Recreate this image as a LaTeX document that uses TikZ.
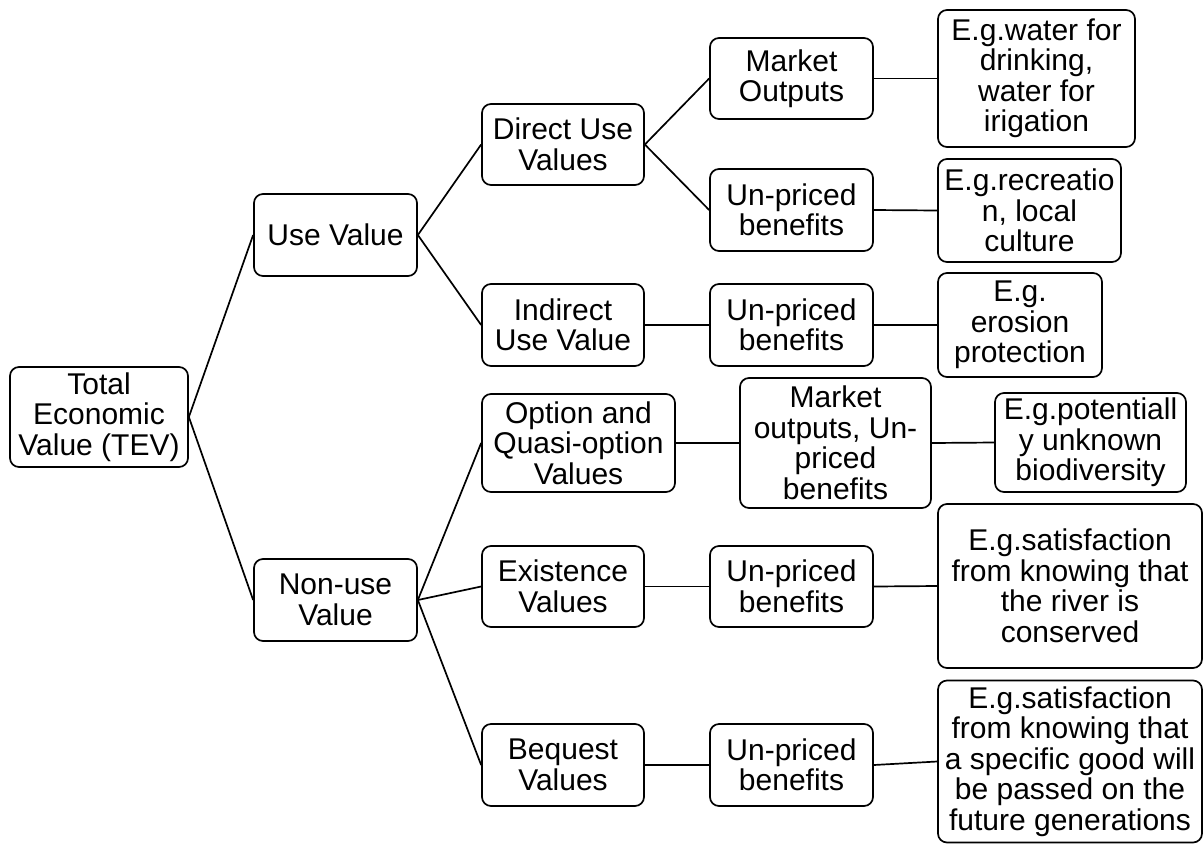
\documentclass[tikz,border=0pt]{standalone}
\usepackage{fontspec}
\setmainfont{Liberation Sans}
\begin{document}
\begin{tikzpicture}[x=1pt,y=-1pt,
  box/.style={draw, line width=1.7pt, rounded corners=9pt, align=center,
    inner sep=0pt, font=\fontsize{30}{30.5}\selectfont},
  link/.style={line width=1.7pt}]
\useasboundingbox (0,0) rectangle (1204,844);
% level 0 and 1
\node[box, minimum width=178, minimum height=100] (tev) at (99,417) {Total\\Economic\\Value (TEV)};
\node[box, minimum width=163, minimum height=82] (use) at (335.5,235) {Use Value};
\node[box, minimum width=163, minimum height=82] (non) at (335.5,600) {Non-use\\Value};
% level 2
\node[box, minimum width=162, minimum height=81] (direct) at (563,144.5) {Direct Use\\Values};
\node[box, minimum width=162, minimum height=82] (indirect) at (563,325) {Indirect\\Use Value};
\node[box, minimum width=193, minimum height=98] (option) at (578.5,443) {Option and\\Quasi-option\\Values};
\node[box, minimum width=162, minimum height=81] (exist) at (563,586.5) {Existence\\Values};
\node[box, minimum width=162, minimum height=82] (bequest) at (563,765) {Bequest\\Values};
% level 3
\node[box, minimum width=163, minimum height=81] (market) at (791.5,78.5) {Market\\Outputs};
\node[box, minimum width=163, minimum height=82] (upa) at (791.5,210) {Un-priced\\benefits};
\node[box, minimum width=163, minimum height=82] (upb) at (791.5,325) {Un-priced\\benefits};
\node[box, minimum width=191, minimum height=130] (mixed) at (835.5,443) {Market\\outputs, Un-\\priced\\benefits};
\node[box, minimum width=163, minimum height=81] (upc) at (791.5,586.5) {Un-priced\\benefits};
\node[box, minimum width=163, minimum height=82] (upd) at (791.5,765) {Un-priced\\benefits};
% level 4: examples
\node[box, minimum width=197, minimum height=137] (ega) at (1036.5,78.5) {E.g.water for\\drinking,\\water for\\irigation};
\node[box, minimum width=183, minimum height=103] (egb) at (1029.5,210.5) {E.g.recreatio\\n, local\\culture};
\node[box, minimum width=164, minimum height=104] (egc) at (1020,325) {E.g.\\erosion\\protection};
\node[box, minimum width=191, minimum height=99] (egd) at (1090.5,442.5) {E.g.potentiall\\y unknown\\biodiversity};
\node[box, minimum width=264, minimum height=164] (ege) at (1070,586) {E.g.satisfaction\\from knowing that\\the river is\\conserved};
\node[box, minimum width=264, minimum height=162] (egf) at (1070,761.5) {E.g.satisfaction\\from knowing that\\a specific good will\\be passed on the\\future generations};
% connectors
\draw[link] (tev.east) -- (use.west);
\draw[link] (tev.east) -- (non.west);
\draw[link] (use.east) -- (direct.west);
\draw[link] (use.east) -- (indirect.west);
\draw[link] (non.east) -- (option.west);
\draw[link] (non.east) -- (exist.west);
\draw[link] (non.east) -- (bequest.west);
\draw[link] (direct.east) -- (market.west);
\draw[link] (direct.east) -- (upa.west);
\draw[link] (indirect.east) -- (upb.west);
\draw[link] (option.east) -- (mixed.west);
\draw[link] (exist.east) -- (upc.west);
\draw[link] (bequest.east) -- (upd.west);
\draw[link] (market.east) -- (ega.west);
\draw[link] (upa.east) -- (egb.west);
\draw[link] (upb.east) -- (egc.west);
\draw[link] (mixed.east) -- (egd.west);
\draw[link] (upc.east) -- (ege.west);
\draw[link] (upd.east) -- (egf.west);
\end{tikzpicture}
\end{document}
